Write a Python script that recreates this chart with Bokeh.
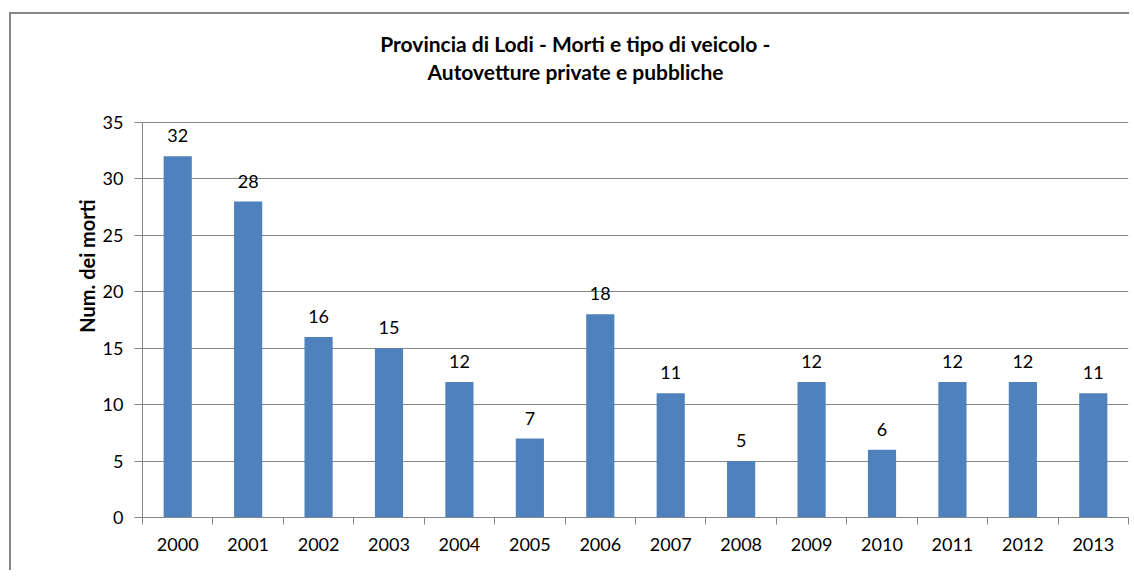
from bokeh.plotting import figure
from bokeh.layouts import column
from bokeh.models import ColumnDataSource, LabelSet, Label, FixedTicker, Range1d
from bokeh.core.properties import value
from bokeh.embed import file_html
from bokeh.resources import INLINE

years = ["2000", "2001", "2002", "2003", "2004", "2005", "2006",
         "2007", "2008", "2009", "2010", "2011", "2012", "2013"]
deaths = [32, 28, 16, 15, 12, 7, 18, 11, 5, 12, 6, 12, 12, 11]
y_ticks = [0, 5, 10, 15, 20, 25, 30, 35]
title_lines = ["Provincia di Lodi - Morti e tipo di veicolo -",
               "Autovetture private e pubbliche"]
y_label = "Num. dei morti"

FONT = "Lato"
GRAY = "#868686"
BAR = "#4F81BD"

n = len(years)
centers = [i + 0.5 for i in range(n)]
bounds = list(range(n + 1))
y_max = y_ticks[-1]

src = ColumnDataSource(dict(x=centers, y=deaths, lab=[str(v) for v in deaths]))

# layout in page pixels
CANVAS_TOP, FRAME_TOP_35, FRAME_BOTTOM = 14, 122, 517
W, H = 1118, 556
px_per_unit = (FRAME_BOTTOM - FRAME_TOP_35) / y_max
y_top = (FRAME_BOTTOM - CANVAS_TOP) / px_per_unit  # frame reaches the canvas top

p = figure(width=W, height=H, output_backend="svg", toolbar_location=None,
           x_range=Range1d(0, n), y_range=Range1d(0, y_top),
           min_border_left=142 - 11, min_border_right=1, min_border_top=0,
           min_border_bottom=CANVAS_TOP + H - FRAME_BOTTOM)
p.outline_line_color = None
p.background_fill_color = "white"
p.border_fill_color = "white"

p.vbar(x="x", top="y", width=0.4, source=src, fill_color=BAR, line_color=None)

labels = LabelSet(x="x", y="y", text="lab", source=src, y_offset=14,
                  text_align="center", text_baseline="bottom",
                  text_font=value(FONT), text_font_size="18px", text_color="#000000")
p.add_layout(labels)

# x axis
p.xaxis.ticker = FixedTicker(ticks=centers, minor_ticks=bounds)
p.xaxis.major_label_overrides = {c: y for c, y in zip(centers, years)}
p.xaxis.major_tick_out = 0
p.xaxis.major_tick_in = 0
p.xaxis.minor_tick_out = 7
p.xaxis.minor_tick_in = 0
p.xaxis.minor_tick_line_color = GRAY
p.xaxis.axis_line_color = GRAY
p.xaxis.major_label_standoff = 13
p.xaxis.major_label_text_font = FONT
p.xaxis.major_label_text_font_size = "18px"
p.xaxis.major_label_text_color = "#000000"
p.xgrid.grid_line_color = None

# y axis
p.yaxis.ticker = FixedTicker(ticks=y_ticks)
p.yaxis.bounds = (0, y_max)
p.yaxis.minor_tick_line_color = None
p.yaxis.major_tick_out = 8
p.yaxis.major_tick_in = 0
p.yaxis.major_tick_line_color = GRAY
p.yaxis.axis_line_color = GRAY
p.yaxis.major_label_standoff = 11
p.yaxis.major_label_text_font = FONT
p.yaxis.major_label_text_font_size = "18px"
p.yaxis.major_label_text_color = "#000000"
p.yaxis.axis_label = y_label
p.yaxis.axis_label_text_font = FONT
p.yaxis.axis_label_text_font_size = "20px"
p.yaxis.axis_label_text_font_style = "bold"
p.yaxis.axis_label_text_color = "#000000"
p.yaxis.axis_label_standoff = 1
p.ygrid.grid_line_color = GRAY
p.ygrid.grid_line_width = 1

# two-line title, centred over the chart
title_x = (575 - 142) / ((1128 - 142) / n)
for i, (t, ypx) in enumerate(zip(title_lines, [43, 71])):
    p.add_layout(Label(x=title_x, y=(FRAME_BOTTOM - ypx) / px_per_unit,
                       text=t, text_align="center", text_baseline="middle",
                       text_font=FONT, text_font_size="21px", text_font_style="bold",
                       text_color="#000000"))

inner = column(p, styles={"border-left": "2px solid #878787",
                          "border-top": "2px solid #878787"})
layout = column(inner, styles={"padding-left": "9px", "padding-top": "12px"})

open("out.html", "w").write(file_html(layout, INLINE))
